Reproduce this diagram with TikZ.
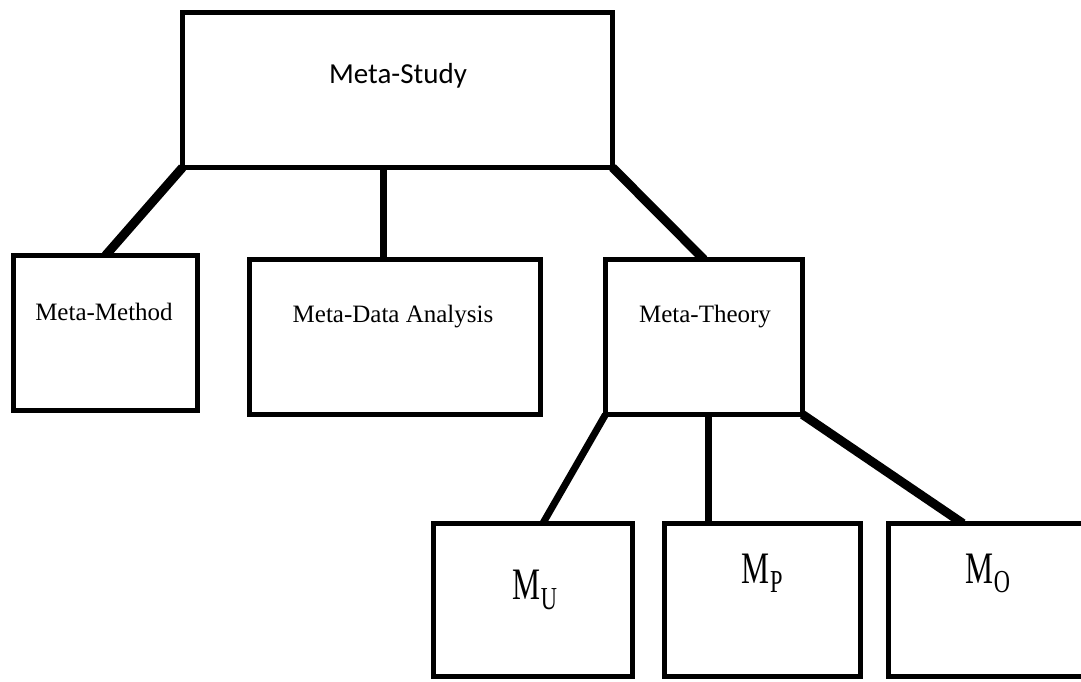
\documentclass[tikz,border=0pt]{standalone}
\usepackage{fontspec}
\setmainfont{Liberation Serif}
\newfontfamily\headfont{Carlito}
\usetikzlibrary{calc,backgrounds}
% M with a lowered subscript letter, set narrow
\newcommand\msub[2][9.5pt]{\scalebox{0.7}[1]{M\kern1pt\raisebox{-#1}{\fontsize{32}{32}\selectfont #2}}}
\begin{document}
\begin{tikzpicture}[x=1pt,y=-1pt,
  box/.style={draw,fill=white,line width=5pt,rectangle,inner sep=0pt,outer sep=0pt,minimum height=155pt},
  link/.style={line width=7pt},
  slant/.style={line width=9pt},
  head/.style={inner sep=0pt,anchor=base,font=\headfont\fontsize{29}{29}\selectfont},
  lbl/.style={inner sep=0pt,anchor=base,font=\fontsize{25}{25}\selectfont},
  sym/.style={inner sep=0pt,anchor=base,font=\fontsize{45}{45}\selectfont}]
\useasboundingbox (0,0) rectangle (1081,681);
\clip (0,0) rectangle (1081,681);

% boxes
\node[box,minimum width=430pt] (ms) at (397.5,90) {};
\node[box,minimum width=184pt] (mm) at (105.5,333) {};
\node[box,minimum width=291pt] (mda) at (394.5,337) {};
\node[box,minimum width=197pt] (mt) at (704,337) {};
\node[box,minimum width=198.5pt,minimum height=153pt] (mu) at (532.75,600) {};
\node[box,minimum width=196.5pt,minimum height=153pt] (mp) at (762.25,600) {};
\node[box,minimum width=210pt,minimum height=153pt] (mo) at (993.5,600) {};

% labels
\node[head] (mst) at (398,83) {Meta-Study};
\node[lbl] (mmt) at (104,320) {Meta-Method};
\node[lbl] (mdat) at (393,322) {Meta-Data Analysis};
\node[lbl] (mtt) at (705,322) {Meta-Theory};
\node[sym] (mut) at (534.5,599) {\msub[10pt]{U}};
\node[sym] (mpt) at (762,583) {\msub{P}};
\node[sym] (mot) at (987.5,583) {\msub{O}};

% connectors
\begin{scope}[on background layer]
  \draw[slant] (ms.south west) -- (mm.north);
  \coordinate (mdaj) at ($(mda.north)+(-11,0)$);
  \draw[link] (mdaj |- ms.south) -- (mdaj);
  \draw[slant] (ms.south east) -- (mt.north);
  \draw[link] (mt.south west) -- ($(mu.north)+(10,0)$);
  \coordinate (mpj) at ($(mt.south)+(4,0)$);
  \draw[link] (mpj) -- (mpj |- mp.north);
  \draw[slant] (mt.south east) -- ($(mo.north west)+(74.5,0)$);
\end{scope}
\end{tikzpicture}
\end{document}
